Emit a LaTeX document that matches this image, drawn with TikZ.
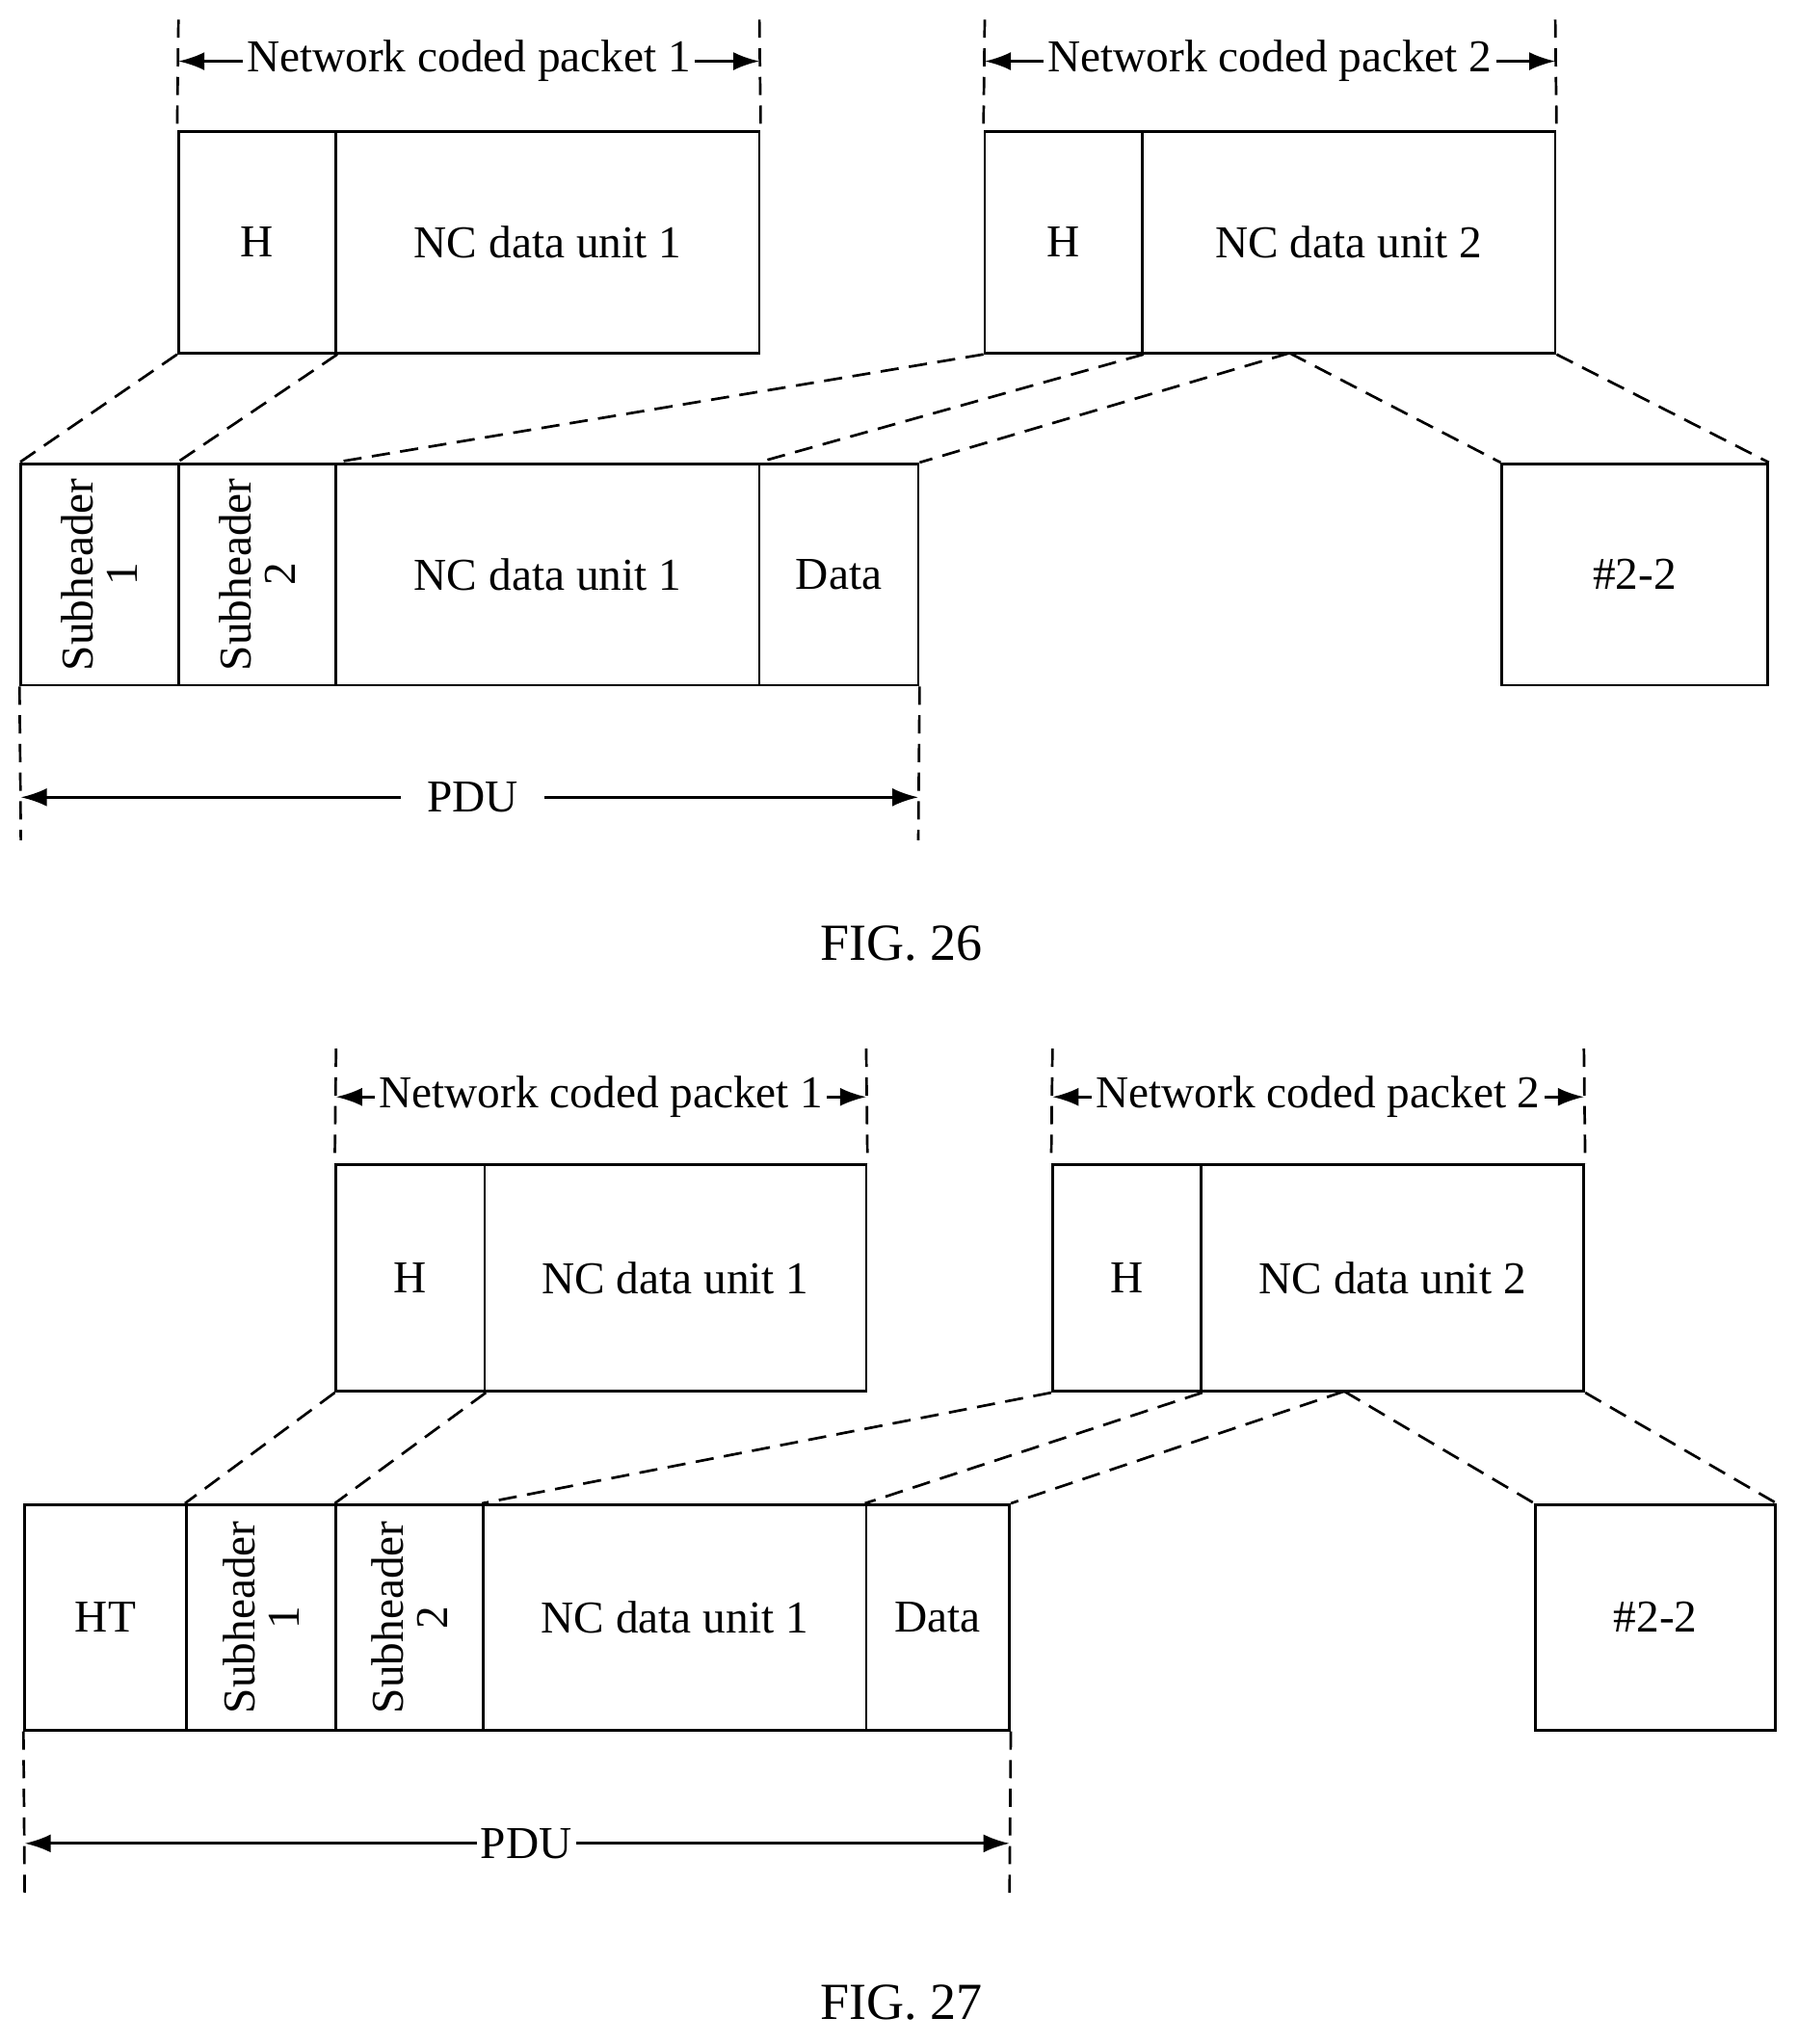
\documentclass[tikz,border=0pt]{standalone}
\usepackage{fontspec}
\setmainfont{Liberation Serif}
\usetikzlibrary{arrows.meta}
\newcommand\bx[6]{%
 \pgfmathsetmacro\bw{(#4-#2)*0.5}\pgfmathsetmacro\bh{(#5-#3)*0.5}%
 \node[box,minimum width=\bw pt,minimum height=\bh pt] (#1) at ({(#2+#4)/2},{(#3+#5)/2}) {#6};}
\begin{document}
\begin{tikzpicture}[x=0.5pt,y=-0.5pt,
 box/.style={draw,line width=1pt,inner sep=0pt,font=\fontsize{17.5}{18}\selectfont},
 dl/.style={dashed,line width=1pt,dash pattern=on 7pt off 4pt},
 ar/.style={line width=1pt,{Latex[length=10pt,width=7pt]}-{Latex[length=10pt,width=7pt]}},
 lbl/.style={fill=white,inner sep=1.5pt,font=\fontsize{17.5}{18}\selectfont},
 rot/.style={rotate=90,align=center,font=\fontsize{17.5}{17}\selectfont}]
\useasboundingbox (0,0) rectangle (1380,1569);
% FIG 26
\bx{a1h}{137}{101}{258}{271}{H}
\bx{a1d}{258}{101}{583}{271}{NC data unit 1}
\bx{a2h}{756}{101}{877}{271}{H}
\bx{a2d}{877}{101}{1194}{271}{NC data unit 2}
\bx{as1}{16}{356}{137}{526}{}
\bx{as2}{137}{356}{258}{526}{}
\node[rot] (as1t) at (as1) {Subheader\\1};
\node[rot] (as2t) at (as2) {Subheader\\2};
\bx{ad}{258}{356}{583}{526}{NC data unit 1}
\bx{ada}{583}{356}{705}{526}{Data}
\bx{ax}{1153}{356}{1357}{526}{\#2-2}
\coordinate (am) at (990,271);
\draw[dl] (a1h.south west)--(as1.north west);
\draw[dl] (a1h.south east)--(as2.north west);
\draw[dl] (a2h.south west)--(ad.north west);
\draw[dl] (a2h.south east)--(ada.north west);
\draw[dl] (am)--(ada.north east);
\draw[dl] (am)--(ax.north west);
\draw[dl] (a2d.south east)--(ax.north east);
\coordinate (av1) at (137,15);\coordinate (av2) at (583,15);
\coordinate (av3) at (756,15);\coordinate (av4) at (1194,15);
\draw[dl] (av1)--(a1h.north west); \draw[dl] (av2)--(a1d.north east);
\draw[dl] (av3)--(a2h.north west); \draw[dl] (av4)--(a2d.north east);
\coordinate (aa1) at (137,47);\coordinate (aa2) at (583,47);
\coordinate (aa3) at (756,47);\coordinate (aa4) at (1194,47);
\draw[ar] (aa1)--(aa2) node[lbl,midway] (al1) {Network coded packet 1};
\draw[ar] (aa3)--(aa4) node[lbl,midway] (al2) {Network coded packet 2};
\coordinate (ap1) at (16,645);\coordinate (ap2) at (705,645);
\draw[dl] (as1.south west)--(ap1); \draw[dl] (ada.south east)--(ap2);
\coordinate (ab1) at (16,612);\coordinate (ab2) at (705,612);
\draw[ar] (ab1)--(ab2);
\node[lbl,inner xsep=10pt] (apdu) at (363,612) {PDU};
\node[font=\fontsize{20}{21}\selectfont] (f26) at (692,724) {FIG. 26};
% FIG 27
\bx{b1h}{258}{894}{372}{1068}{H}
\bx{b1d}{372}{894}{665}{1068}{NC data unit 1}
\bx{b2h}{808}{894}{922}{1068}{H}
\bx{b2d}{922}{894}{1216}{1068}{NC data unit 2}
\bx{bht}{19}{1155}{143}{1328}{HT}
\bx{bs1}{143}{1155}{258}{1328}{}
\bx{bs2}{258}{1155}{371}{1328}{}
\node[rot] (bs1t) at (bs1) {Subheader\\1};
\node[rot] (bs2t) at (bs2) {Subheader\\2};
\bx{bd}{371}{1155}{665}{1328}{NC data unit 1}
\bx{bda}{665}{1155}{775}{1328}{Data}
\bx{bx}{1179}{1155}{1363}{1328}{\#2-2}
\coordinate (bm) at (1032,1068);
\draw[dl] (b1h.south west)--(bs1.north west);
\draw[dl] (b1h.south east)--(bs2.north west);
\draw[dl] (b2h.south west)--(bd.north west);
\draw[dl] (b2h.south east)--(bda.north west);
\draw[dl] (bm)--(bda.north east);
\draw[dl] (bm)--(bx.north west);
\draw[dl] (b2d.south east)--(bx.north east);
\coordinate (bv1) at (258,805);\coordinate (bv2) at (665,805);
\coordinate (bv3) at (808,805);\coordinate (bv4) at (1216,805);
\draw[dl] (bv1)--(b1h.north west); \draw[dl] (bv2)--(b1d.north east);
\draw[dl] (bv3)--(b2h.north west); \draw[dl] (bv4)--(b2d.north east);
\coordinate (ba1) at (258,842);\coordinate (ba2) at (665,842);
\coordinate (ba3) at (808,842);\coordinate (ba4) at (1216,842);
\draw[ar] (ba1)--(ba2) node[lbl,midway] (bl1) {Network coded packet 1};
\draw[ar] (ba3)--(ba4) node[lbl,midway] (bl2) {Network coded packet 2};
\coordinate (bp1) at (19,1460);\coordinate (bp2) at (775,1460);
\draw[dl] (bht.south west)--(bp1); \draw[dl] (bda.south east)--(bp2);
\coordinate (bb1) at (19,1415);\coordinate (bb2) at (775,1415);
\draw[ar] (bb1)--(bb2);
\node[lbl] (bpdu) at (404,1415) {PDU};
\node[font=\fontsize{20}{21}\selectfont] (f27) at (692,1537) {FIG. 27};
\end{tikzpicture}
\end{document}
